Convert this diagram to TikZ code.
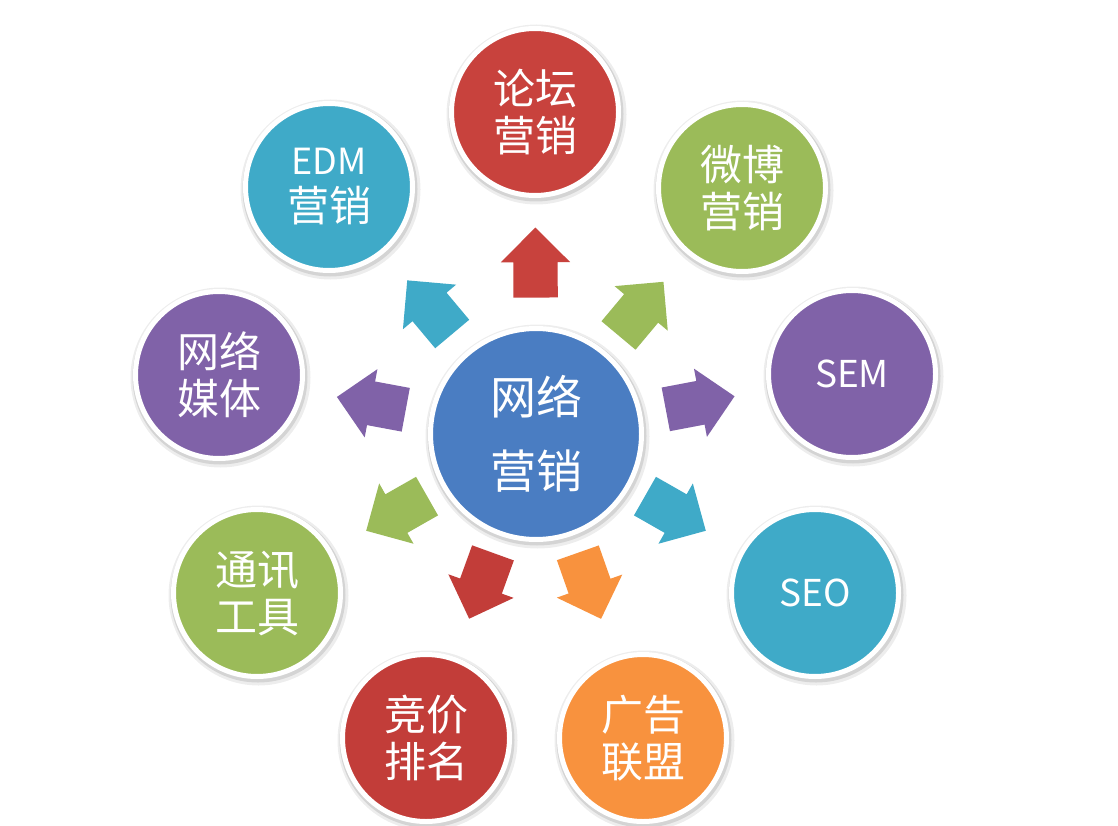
\documentclass[tikz,border=0pt]{standalone}
\usepackage{fontspec}
\newfontfamily\cjk{Noto Sans CJK SC}
\usetikzlibrary{shapes.arrows,shadows}
\definecolor{cred}{HTML}{C8423D}
\definecolor{cred2}{HTML}{C23D39}
\definecolor{cgreen}{HTML}{9BBB59}
\definecolor{cteal}{HTML}{3FAAC8}
\definecolor{cpurple}{HTML}{8062A8}
\definecolor{corange}{HTML}{F8923E}
\definecolor{cblue}{HTML}{4A7DC2}
\begin{document}
\begin{tikzpicture}[x=1pt,y=-1pt,
  bubble/.style={circle, fill=#1, draw=white, line width=5pt, minimum size=167pt,
    inner sep=0pt, text=white, align=center, font=\cjk\fontsize{42}{47}\selectfont},
  latin/.style={font=\cjk\fontsize{37}{47}\selectfont},
  blk/.style={single arrow, fill=#1, draw=none, minimum height=70pt, minimum width=69pt,
    single arrow head extend=12.5pt, inner xsep=0pt, inner ysep=22pt, outer sep=0pt,
    sloped, allow upside down, pos=0.475},
  softshade/.style={fill=black, opacity=#1}]
\useasboundingbox (0,0) rectangle (1118,826);
\fill[white] (0,0) rectangle (1118,826);
% soft shadows behind the circles
\foreach \x/\y in {535/112, 742/188, 852/374, 815/593, 643/738, 426/738, 257/593, 219/375, 329/187}{
  \fill[softshade=.07] (\x+1.5,\y+2.5) circle (90);
  \fill[softshade=.10] (\x+1,\y+2) circle (87.5);
}
\fill[softshade=.07] (537.5,436.5) circle (112);
\fill[softshade=.10] (537,436) circle (109.5);
% circles
\node[bubble=cblue, minimum size=211pt, font=\cjk\fontsize{46}{74}\selectfont] (C) at (536,434) {网络\\营销};
\node[bubble=cred] (T) at (535,112) {论坛\\营销};
\node[bubble=cgreen] (WB) at (742,188) {微博\\营销};
\node[bubble=cpurple, latin] (SEM) at (852,374) {SEM};
\node[bubble=cteal, latin] (SEO) at (815,593) {SEO};
\node[bubble=corange] (GG) at (643,738) {广告\\联盟};
\node[bubble=cred2] (JJ) at (426,738) {竞价\\排名};
\node[bubble=cgreen] (TX) at (257,593) {通讯\\工具};
\node[bubble=cpurple] (MT) at (219,375) {网络\\媒体};
\node[bubble=cteal] (EDM) at (329,187) {{\fontsize{36}{47}\selectfont EDM}\\营销};
% block arrows
\path (C.center) -- node[blk=cred, pos=0.498] (aT) {} (T.center);
\path (C.center) -- node[blk=cgreen] (aWB) {} (WB.center);
\path (C.center) -- node[blk=cpurple, pos=0.485] (aSEM) {} (SEM.center);
\path (C.center) -- node[blk=cteal, pos=0.465] (aSEO) {} (SEO.center);
\path (C.center) -- node[blk=corange, pos=0.465] (aGG) {} (GG.center);
\path (C.center) -- node[blk=cred2, pos=0.465] (aJJ) {} (JJ.center);
\path (C.center) -- node[blk=cgreen, pos=0.465] (aTX) {} (TX.center);
\path (C.center) -- node[blk=cpurple, pos=0.485] (aMT) {} (MT.center);
\path (C.center) -- node[blk=cteal, pos=0.479] (aEDM) {} (EDM.center);
\end{tikzpicture}
\end{document}
